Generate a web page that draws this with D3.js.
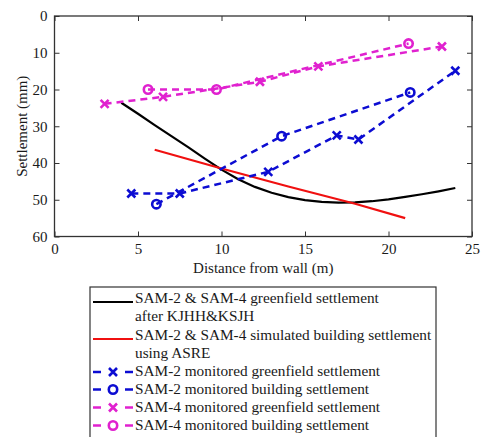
<!DOCTYPE html>
<html>
<head>
<meta charset="utf-8">
<script src="https://cdn.jsdelivr.net/npm/d3@7"></script>
<style>
  body { margin: 0; background: #fff; }
  svg { display: block; }
</style>
</head>
<body>
<div id="chart"></div>
<script>
'use strict'

// greenfield settlement after KJHH&KSJH (distance m, settlement mm)
const greenfieldCalc = [
  [4, 23.6], [5, 26.6], [6, 29.7], [7, 32.7], [8, 35.7], [9, 38.8], [10, 41.8],
  [11, 44.4], [12, 46.5], [13, 48.1], [14, 49.3], [15, 50.1], [16, 50.6],
  [17, 50.8], [18, 50.7], [19, 50.4], [20, 49.9], [21, 49.2], [22, 48.5],
  [23, 47.7], [24, 46.8]
]
// simulated building settlement using ASRE
const asre = [[6, 36.4], [10, 41.5], [14, 46.4], [18, 51.1], [21, 55.0]]
// monitored series
const sam2Green = [[4.6, 48.3], [7.5, 48.3], [12.8, 42.4], [16.9, 32.5], [18.2, 33.6], [24.0, 14.9]]
const sam2Building = [[6.1, 51.2], [13.6, 32.7], [21.3, 20.8]]
const sam4Green = [[3.0, 23.9], [6.5, 22.0], [12.3, 17.9], [15.8, 13.7], [23.2, 8.3]]
const sam4Building = [[5.6, 20.0], [9.7, 20.0], [21.2, 7.5]]

const xTicks = [0, 5, 10, 15, 20, 25]
const yTicks = [0, 10, 20, 30, 40, 50, 60]

const BLUE = '#0c0cd2'
const MAGENTA = '#e021cf'
const FONT = '"Liberation Serif", "Times New Roman", Times, "DejaVu Serif", serif'

const seriesDefs = [
  { data: greenfieldCalc, color: '#000', dash: null, marker: null, label: ['SAM-2 & SAM-4 greenfield settlement', 'after KJHH&KSJH'] },
  { data: asre, color: '#f01010', dash: null, marker: null, label: ['SAM-2 & SAM-4 simulated building settlement', 'using ASRE'] },
  { data: sam2Green, color: BLUE, dash: '7,5', marker: 'x', label: ['SAM-2 monitored greenfield settlement'] },
  { data: sam2Building, color: BLUE, dash: '7,5', marker: 'o', label: ['SAM-2 monitored building settlement'] },
  { data: sam4Green, color: MAGENTA, dash: '7,5', marker: 'x', label: ['SAM-4 monitored greenfield settlement'] },
  { data: sam4Building, color: MAGENTA, dash: '7,5', marker: 'o', label: ['SAM-4 monitored building settlement'] }
]

const width = 491
const height = 437
const plot = { left: 54.5, top: 16, right: 472, bottom: 236.5 }

const svg = d3.select('#chart').append('svg')
  .attr('width', width)
  .attr('height', height)
  .style('font-family', FONT)

const x = d3.scaleLinear().domain([0, 25]).range([plot.left, plot.right])
const y = d3.scaleLinear().domain([0, 60]).range([plot.top, plot.bottom])

// axes with inward ticks on all four sides
const axisStyle = g => {
  g.attr('font-family', null)
  g.select('.domain').remove()
  g.selectAll('line').attr('stroke', '#333').attr('stroke-width', 1)
  g.selectAll('text').attr('font-size', '15px').attr('fill', '#1a1a1a')
    .style('font-family', FONT)
}
svg.append('g')
  .attr('transform', `translate(0,${plot.bottom})`)
  .call(d3.axisBottom(x).tickValues(xTicks).tickSize(-5).tickPadding(7))
  .call(axisStyle)
svg.append('g')
  .attr('transform', `translate(0,${plot.top})`)
  .call(d3.axisTop(x).tickValues(xTicks).tickSize(-5).tickFormat(''))
  .call(axisStyle)
svg.append('g')
  .attr('transform', `translate(${plot.left},0)`)
  .call(d3.axisLeft(y).tickValues(yTicks).tickSize(-5).tickPadding(7))
  .call(axisStyle)
svg.append('g')
  .attr('transform', `translate(${plot.right},0)`)
  .call(d3.axisRight(y).tickValues(yTicks).tickSize(-5).tickFormat(''))
  .call(axisStyle)

svg.append('rect')
  .attr('x', plot.left).attr('y', plot.top)
  .attr('width', plot.right - plot.left).attr('height', plot.bottom - plot.top)
  .attr('fill', 'none').attr('stroke', '#333').attr('stroke-width', 1.3)

svg.append('text')
  .attr('x', (plot.left + plot.right) / 2)
  .attr('y', 273)
  .attr('text-anchor', 'middle')
  .attr('font-size', '15px')
  .attr('fill', '#1a1a1a')
  .text('Distance from wall (m)')

svg.append('text')
  .attr('transform', `translate(27,${(plot.top + plot.bottom) / 2}) rotate(-90)`)
  .attr('text-anchor', 'middle')
  .attr('font-size', '15px')
  .attr('fill', '#1a1a1a')
  .text('Settlement (mm)')

const line = d3.line().x(d => x(d[0])).y(d => y(d[1]))

function drawMarker (g, type, color, cx, cy) {
  if (type === 'x') {
    const s = 4
    g.append('path')
      .attr('d', `M${cx - s},${cy - s}L${cx + s},${cy + s}M${cx - s},${cy + s}L${cx + s},${cy - s}`)
      .attr('stroke', color).attr('stroke-width', 2.6).attr('fill', 'none')
  } else if (type === 'o') {
    g.append('circle')
      .attr('cx', cx).attr('cy', cy).attr('r', 4.2)
      .attr('stroke', color).attr('stroke-width', 2.6).attr('fill', 'none')
  }
}

const marks = svg.append('g')
seriesDefs.forEach(s => {
  marks.append('path')
    .datum(s.data)
    .attr('d', line)
    .attr('fill', 'none')
    .attr('stroke', s.color)
    .attr('stroke-width', s.dash ? 2.5 : 2.2)
    .attr('stroke-dasharray', s.dash)
  if (s.marker) {
    s.data.forEach(d => drawMarker(marks, s.marker, s.color, x(d[0]), y(d[1])))
  }
})

// legend
const legend = svg.append('g')
legend.append('rect')
  .attr('x', 90).attr('y', 287)
  .attr('width', 346).attr('height', 160)
  .attr('fill', '#fff').attr('stroke', '#333').attr('stroke-width', 1.2)

const rowBaselines = [303, 340, 376, 393.5, 411.5, 429.5]
seriesDefs.forEach((s, i) => {
  const base = rowBaselines[i]
  const ly = base - 4
  if (s.marker) {
    legend.append('line')
      .attr('x1', 93).attr('x2', 101).attr('y1', ly).attr('y2', ly)
      .attr('stroke', s.color).attr('stroke-width', 2.5)
    legend.append('line')
      .attr('x1', 125).attr('x2', 133).attr('y1', ly).attr('y2', ly)
      .attr('stroke', s.color).attr('stroke-width', 2.5)
    drawMarker(legend, s.marker, s.color, 113, ly)
  } else {
    legend.append('line')
      .attr('x1', 93).attr('x2', 133).attr('y1', ly + 3).attr('y2', ly + 3)
      .attr('stroke', s.color).attr('stroke-width', 2.2)
  }
  s.label.forEach((t, j) => {
    legend.append('text')
      .attr('x', 135)
      .attr('y', base + j * 18)
      .attr('font-size', '15.3px')
      .attr('fill', '#1a1a1a')
      .text(t)
  })
})
</script>
</body>
</html>
